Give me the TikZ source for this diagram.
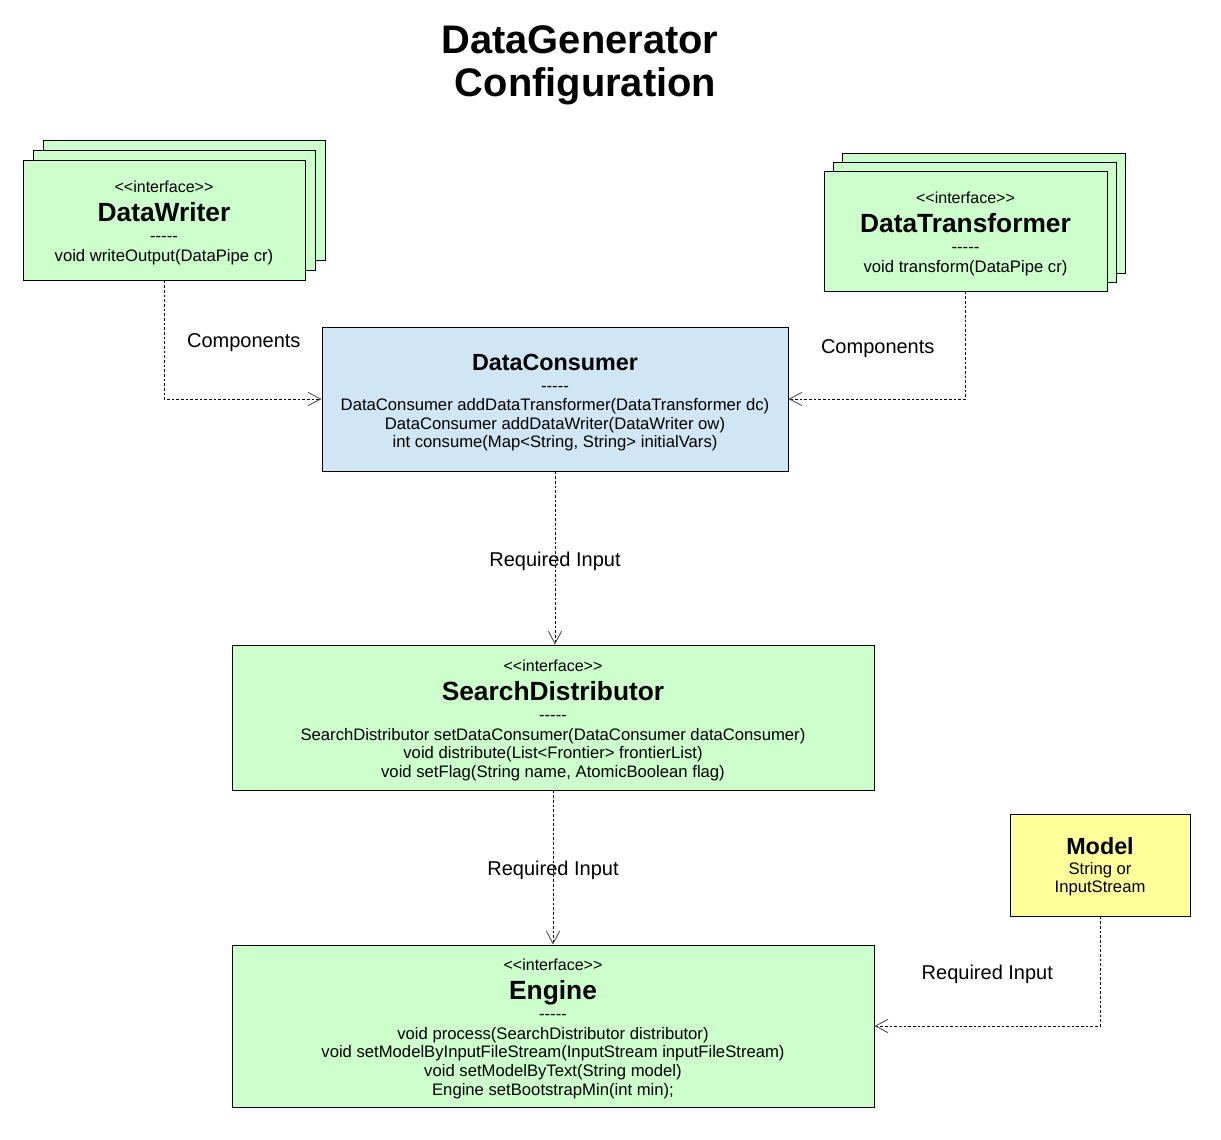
\documentclass[tikz,border=0pt]{standalone}
\usepackage{fontspec}
\usepackage{xcolor}
\newfontfamily\umlfont{Liberation Sans}
\usetikzlibrary{arrows.meta}
\definecolor{ifacegreen}{HTML}{CCFFCC}
\definecolor{consumerblue}{HTML}{D0E6F4}
\definecolor{modelyellow}{HTML}{FFFF99}
\newcommand{\ifacetag}{{\fontsize{12}{14}\selectfont\rule{0pt}{13pt}<<interface>>}}
\newcommand{\clsname}[1]{{\fontsize{19.75}{22}\selectfont\bfseries #1}}

\begin{document}
\begin{tikzpicture}[x=0.75pt,y=-0.75pt,font=\umlfont\fontsize{12.5}{14}\selectfont,
    >={Straight Barb[length=9.5pt,width=10pt,color=black!75]},
    classbox/.style={draw,line width=0.75pt,fill=ifacegreen,align=center,inner sep=0pt},
    flow/.style={->,line width=0.6pt,dash pattern=on 2pt off 1.5pt},
    edgelabel/.style={inner sep=0pt,yshift=-2.25pt,font=\umlfont\fontsize{15}{17}\selectfont}]
    \useasboundingbox (0,0) rectangle (1221,1139);
    \node[font=\umlfont\fontsize{29.9}{32.5}\selectfont\bfseries,align=center] (title) at (580,65.5) {DataGenerator\\\hspace*{0.278em}Configuration};
    \foreach \d in {20,10}
      \node[classbox,minimum width=211.5pt,minimum height=90pt] (dw\d) at (164+\d,220-\d) {};
    \node[classbox,minimum width=211.5pt,minimum height=90pt] (dw) at (164,220) {\ifacetag\\[6pt] \clsname{DataWriter}\\[1pt] -----\\[1pt] void writeOutput(DataPipe cr)};
    \foreach \d in {18,9}
      \node[classbox,minimum width=212.25pt,minimum height=90pt] (dt\d) at (965.5+\d,231-\d) {};
    \node[classbox,minimum width=212.25pt,minimum height=90pt] (dt) at (965.5,231) {\ifacetag\\[6pt] \clsname{DataTransformer}\\[1pt] -----\\[1pt] void transform(DataPipe cr)};
    \node[classbox,fill=consumerblue,minimum width=349.5pt,minimum height=108pt] (dc) at (555,399) {{\fontsize{17.5}{20}\selectfont\bfseries\rule{0pt}{18pt}DataConsumer}\\[1.5pt] -----\\[0.5pt] DataConsumer addDataTransformer(DataTransformer dc)\\ DataConsumer addDataWriter(DataWriter ow)\\ int consume(Map<String, String> initialVars)};
    \node[classbox,minimum width=481.5pt,minimum height=108.75pt] (sd) at (553,717.5) {\ifacetag\\[6pt] \clsname{SearchDistributor}\\[1pt] -----\\[1pt] SearchDistributor setDataConsumer(DataConsumer dataConsumer)\\ void distribute(List<Frontier> frontierList)\\ void setFlag(String name, AtomicBoolean flag)};
    \node[classbox,minimum width=481.5pt,minimum height=121.5pt] (en) at (553,1026) {\ifacetag\\[6pt] \clsname{Engine}\\[1pt] -----\\[1pt] void process(SearchDistributor distributor)\\ void setModelByInputFileStream(InputStream inputFileStream)\\ void setModelByText(String model)\\ Engine setBootstrapMin(int min);};
    \node[classbox,fill=modelyellow,minimum width=135pt,minimum height=76.5pt] (md) at (1100,865) {{\fontsize{17.5}{20}\selectfont\bfseries\rule{0pt}{15.5pt}Model}\\[1pt] String or\\ InputStream};
    \draw[flow] (dw.south) |- node[pos=0.25,right=17pt,edgelabel] (lblw) {Components} (dc.west);
    \draw[flow] (dt.south) |- node[pos=0.25,left=23pt,edgelabel] (lblt) {Components} (dc.east);
    \draw[flow] (dc.south) -- node[edgelabel] (lblsd) {Required Input} (dc.south |- sd.north);
    \draw[flow] (sd.south) -- node[edgelabel] (lblen) {Required Input} (en.north);
    \draw[flow] (md.south) |- node[pos=0.25,left=35pt,edgelabel] (lblmd) {Required Input} (en.east);
  \end{tikzpicture}
\end{document}
